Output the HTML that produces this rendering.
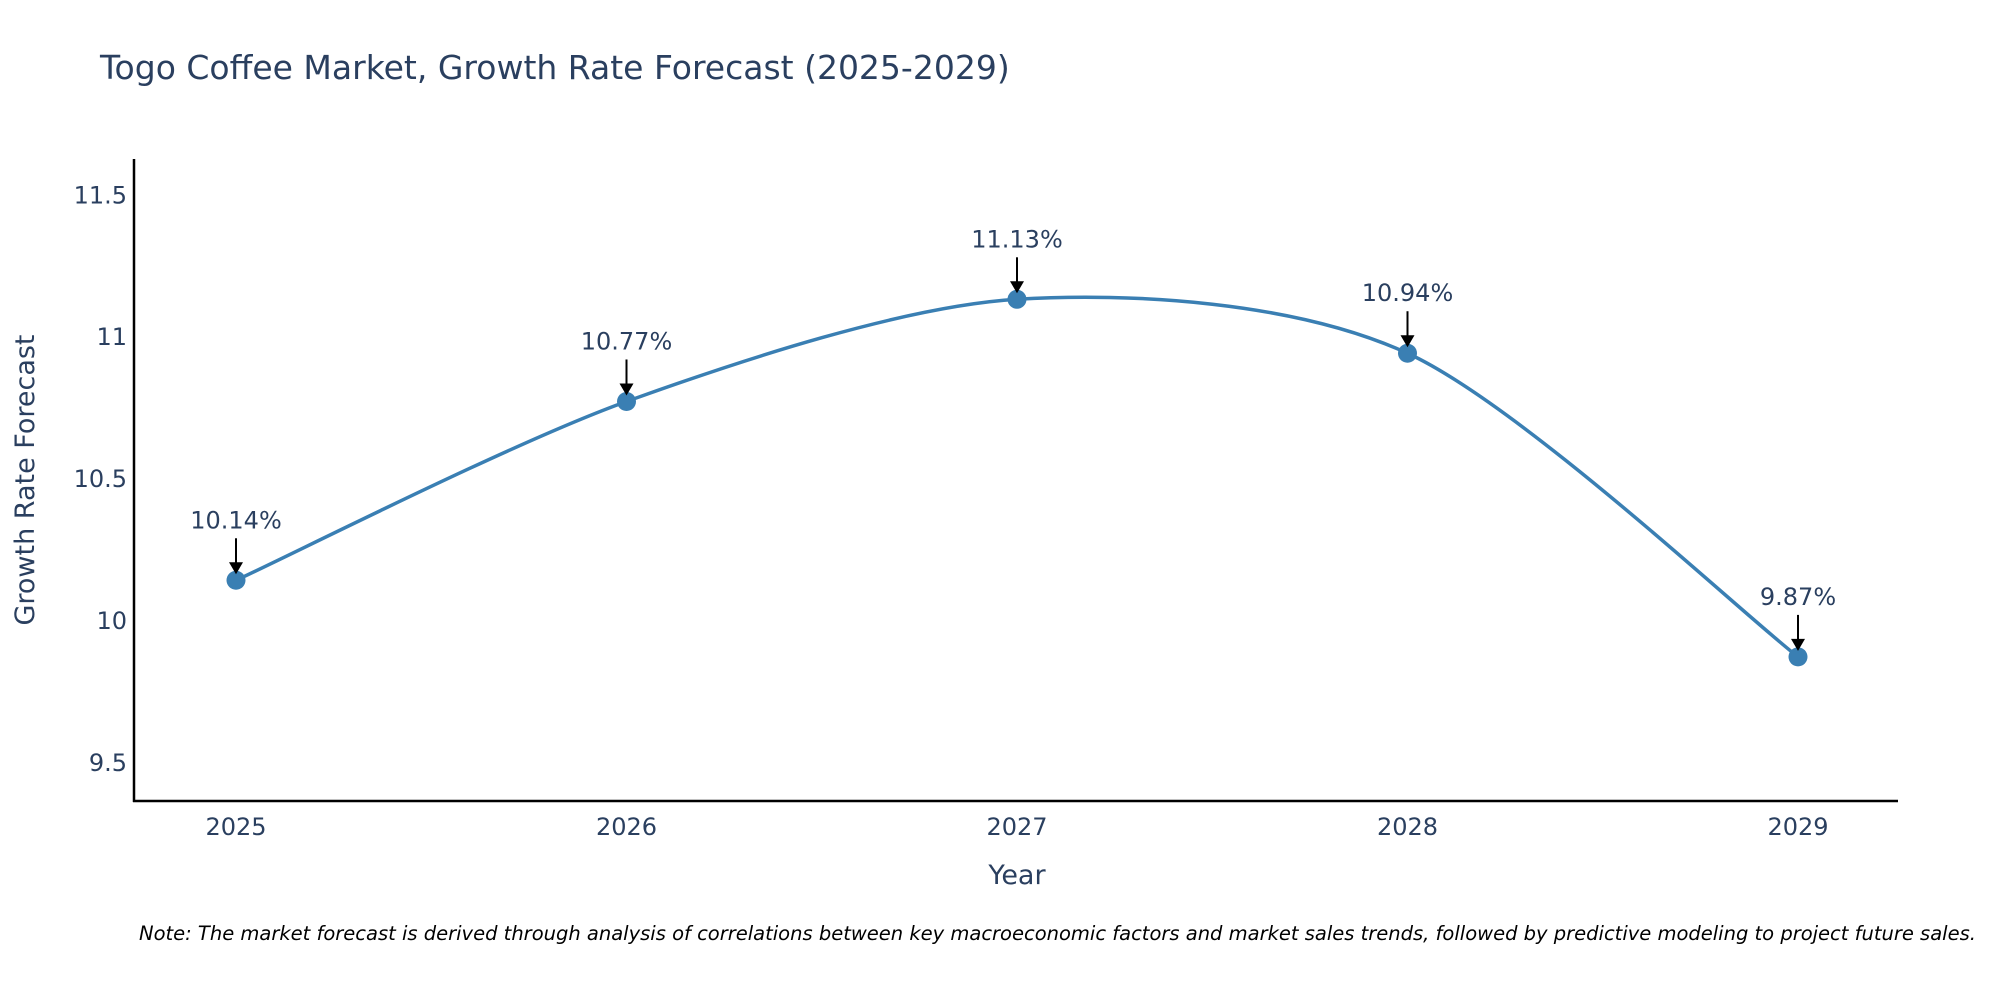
<!DOCTYPE html>
<html><head><meta charset="utf-8"><style>
body{margin:0;background:#fff;}
svg text{font-family:"DejaVu Sans","Liberation Sans",sans-serif;fill:#2a3f5f;}
</style></head><body>
<svg width="2000" height="1000" viewBox="0 0 2000 1000" id="chart">
<text x="100" y="79" font-size="33">Togo Coffee Market, Growth Rate Forecast (2025-2029)</text>
<g id="yticks"></g>
<g id="xticks"></g>
<line x1="134" y1="159" x2="134" y2="802" stroke="#000" stroke-width="2.5"/>
<line x1="133" y1="801" x2="1898" y2="801" stroke="#000" stroke-width="2.5"/>
<text x="34" y="480" font-size="27" text-anchor="middle" transform="rotate(-90 34 480)">Growth Rate Forecast</text>
<text x="1017" y="884" font-size="27" text-anchor="middle">Year</text>
<path id="line" fill="none" stroke="#3a7fb3" stroke-width="3.5"/>
<g id="marks"></g>
<g id="ann"></g>
<text x="139" y="940" font-size="19.5" font-style="italic" style="fill:#000">Note: The market forecast is derived through analysis of correlations between key macroeconomic factors and market sales trends, followed by predictive modeling to project future sales.</text>
</svg>
<script>
const years=[2025,2026,2027,2028,2029];
const values=[10.14,10.77,11.13,10.94,9.87];
const labels=["10.14%","10.77%","11.13%","10.94%","9.87%"];
const yTicks=[9.5,10,10.5,11,11.5];
const yTickLabels=["9.5","10","10.5","11","11.5"];
const NS="http://www.w3.org/2000/svg";
function xs(y){return 236+(y-2025)*390.5;}
function ys(v){return 620-(v-10)*283.8;}
function mk(t,a,p){const e=document.createElementNS(NS,t);for(const k in a)e.setAttribute(k,a[k]);p.appendChild(e);return e;}
const yt=document.getElementById('yticks');
yTicks.forEach((v,i)=>{const t=mk('text',{x:127,y:ys(v)+9,'font-size':24,'text-anchor':'end'},yt);t.textContent=yTickLabels[i];

});
const xt=document.getElementById('xticks');
years.forEach(y=>{const t=mk('text',{x:xs(y),y:835,'font-size':24,'text-anchor':'middle'},xt);t.textContent=y;

});
const pts=years.map((y,i)=>[xs(y),ys(values[i])]);
let d='M'+pts[0][0]+','+pts[0][1];const s=0.29;
for(let i=0;i<pts.length-1;i++){const p0=pts[Math.max(0,i-1)],p1=pts[i],p2=pts[i+1],p3=pts[Math.min(pts.length-1,i+2)];
const c1=[p1[0]+(p2[0]-p0[0])*s/2,p1[1]+(p2[1]-p0[1])*s/2];
const c2=[p2[0]-(p3[0]-p1[0])*s/2,p2[1]-(p3[1]-p1[1])*s/2];
d+=' C'+c1+' '+c2+' '+p2;}
document.getElementById('line').setAttribute('d',d);
const mg=document.getElementById('marks'),ag=document.getElementById('ann');
pts.forEach((p,i)=>{const c=mk('circle',{cx:p[0],cy:p[1],r:9.5,fill:'#3a7fb3'},mg);


const l=mk('line',{x1:p[0],y1:p[1]-42,x2:p[0],y2:p[1]-16,stroke:'#000','stroke-width':2},ag);


const h=mk('polygon',{points:`${p[0]-7},${p[1]-18} ${p[0]+7},${p[1]-18} ${p[0]},${p[1]-6}`,fill:'#000'},ag);


const t=mk('text',{x:p[0],y:p[1]-52,'font-size':24,'text-anchor':'middle'},ag);t.textContent=labels[i];

});
</script>
</body></html>
